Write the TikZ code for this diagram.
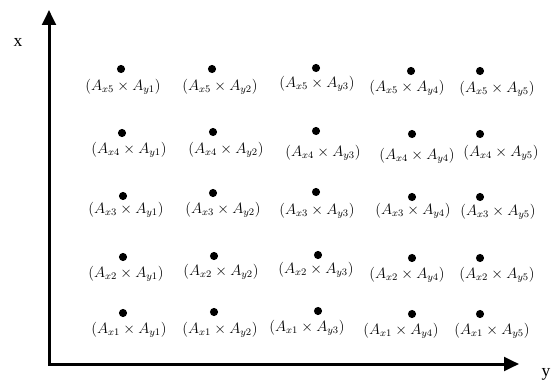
\documentclass[tikz,border=0pt]{standalone}
\usepackage{fontspec}
\newfontfamily\axisfont{Liberation Serif}
\usetikzlibrary{arrows.meta}

\begin{document}
\begin{tikzpicture}[
  x=0.8pt, y=-0.8pt,
  axis/.style={line width=2.4pt, line cap=rect,
               -{Triangle[length=12pt, width=11pt]}},
  pt/.style={circle, fill, inner sep=0pt, minimum size=6.5pt},
  lab/.style={font=\large, inner sep=1pt},
  axlab/.style={font=\axisfont\fontsize{14}{16}\selectfont, inner sep=0pt}
]
\useasboundingbox (0,0) rectangle (553,381);
\coordinate (o) at (49,364);
\coordinate (xtip) at (49,10);
\coordinate (ytip) at (519,364);
\draw[axis] (o) -- (xtip);
\draw[axis] (o) -- (ytip);
\node[axlab] (xl) at (18,42) {x};
\node[axlab] (yl) at (546,374) {y};
% grid of products, row = x index, column = y index
\foreach \r/\c/\dx/\dy/\lx/\ly in {
  5/1/121/69/123/87, 5/2/212/69/220/87, 5/3/316/68/317/84,
  5/4/411/71/407/88, 5/5/480/71/497/89,
  4/1/122/133/129/150, 4/2/213/132/226/150, 4/3/316/131/323/153,
  4/4/412/134/417/156, 4/5/480/134/501/153,
  3/1/123/196/126/210, 3/2/213/193/223/210, 3/3/316/192/317/211,
  3/4/412/197/413/211, 3/5/480/197/498/212,
  2/1/123/257/126/274, 2/2/214/256/221/272, 2/3/318/255/316/270,
  2/4/412/258/407/275, 2/5/480/258/497/275,
  1/1/123/313/129/330, 1/2/214/312/220/330, 1/3/318/311/307/328,
  1/4/412/314/401/331, 1/5/480/314/492/331}{
  \node[pt] (d\r\c) at (\dx,\dy) {};
  \node[lab] (l\r\c) at (\lx,\ly) {$(A_{x\r}\times A_{y\c})$};
}
\end{tikzpicture}
\end{document}
